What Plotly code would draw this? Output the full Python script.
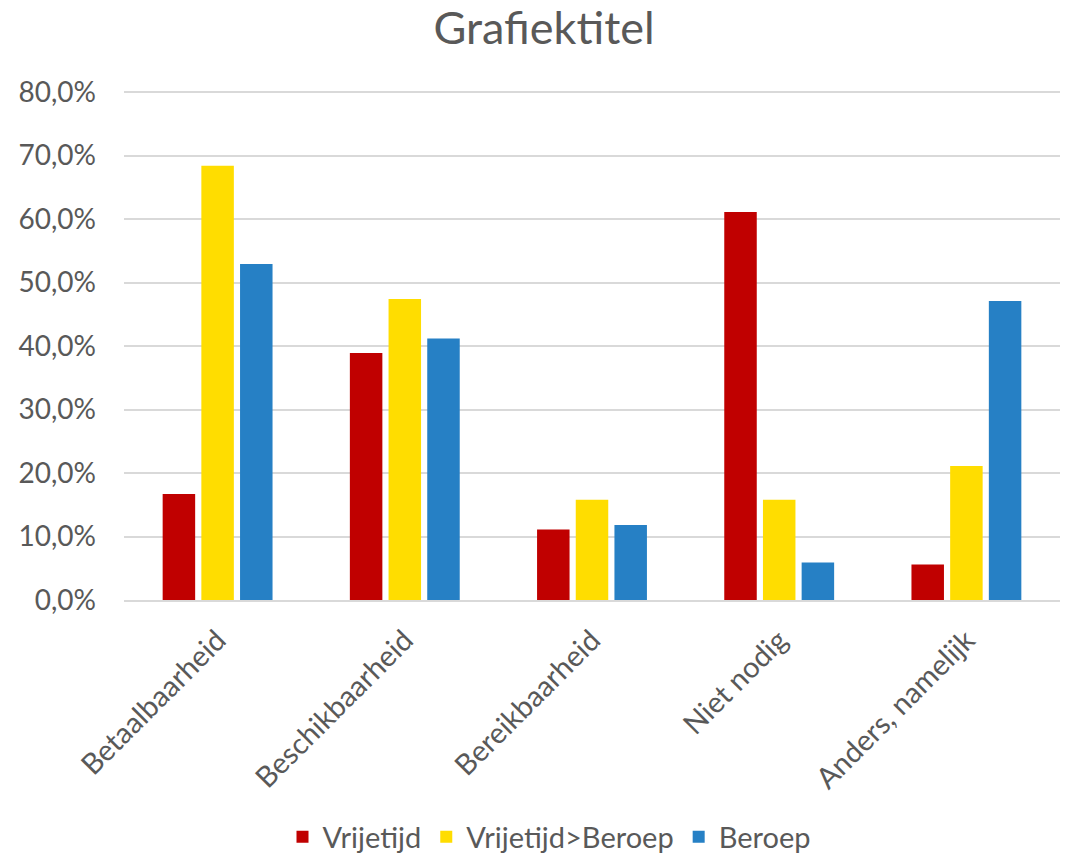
import plotly.graph_objects as go

categories = ["Betaalbaarheid", "Beschikbaarheid", "Bereikbaarheid", "Niet nodig", "Anders, namelijk"]
vrijetijd = [0.167, 0.389, 0.111, 0.611, 0.056]
vrijetijd_beroep = [0.684, 0.474, 0.158, 0.158, 0.211]
beroep = [0.529, 0.412, 0.118, 0.059, 0.471]
series_names = ["Vrijetijd", "Vrijetijd>Beroep", "Beroep"]
colors = ["#C00000", "#FFDD00", "#2680C5"]

FONT = "Lato, 'Open Sans', sans-serif"
TXT = "#595959"

fig = go.Figure()
for name, vals, col in zip(series_names, [vrijetijd, vrijetijd_beroep, beroep], colors):
    fig.add_trace(go.Bar(x=categories, y=vals, name=name, marker=dict(color=col, line=dict(width=0))))

fig.update_layout(
    width=1071, height=861,
    margin=dict(l=124, r=11, t=88, b=261, autoexpand=False),
    paper_bgcolor="white", plot_bgcolor="white",
    separators=",.",
    font=dict(family=FONT, color=TXT, size=28),
    title=dict(text="Grafiektitel", x=0.508, xanchor="center", y=1 - 28 / 861, yanchor="middle",
               font=dict(size=45, color=TXT, family=FONT)),
    barmode="group", bargap=0.38, bargroupgap=0.16,
    legend=dict(orientation="h", xref="container", x=549 / 1071, xanchor="center",
                yref="container", y=1 - 837 / 861,
                yanchor="middle", font=dict(size=29, color=TXT), itemwidth=30,
                traceorder="normal"),
    yaxis=dict(range=[0, 0.8063], tickvals=[0, 0.1, 0.2, 0.3, 0.4, 0.5, 0.6, 0.7, 0.8],
               tickformat=".1%", showgrid=True,
               gridcolor="#D9D9D9", gridwidth=1.5, zeroline=False, showline=False,
               ticks="", ticklabelstandoff=27, tickfont=dict(size=28, color=TXT), automargin=False),
    xaxis=dict(tickangle=-45, showline=True, linecolor="#D9D9D9", linewidth=1.5,
               ticks="", tickfont=dict(size=29, color=TXT), ticklabelstandoff=10, automargin=False),
)

fig.write_html("out.html", config={"displayModeBar": False},
               post_script="document.body.style.margin='0';document.body.style.overflow='hidden';")
